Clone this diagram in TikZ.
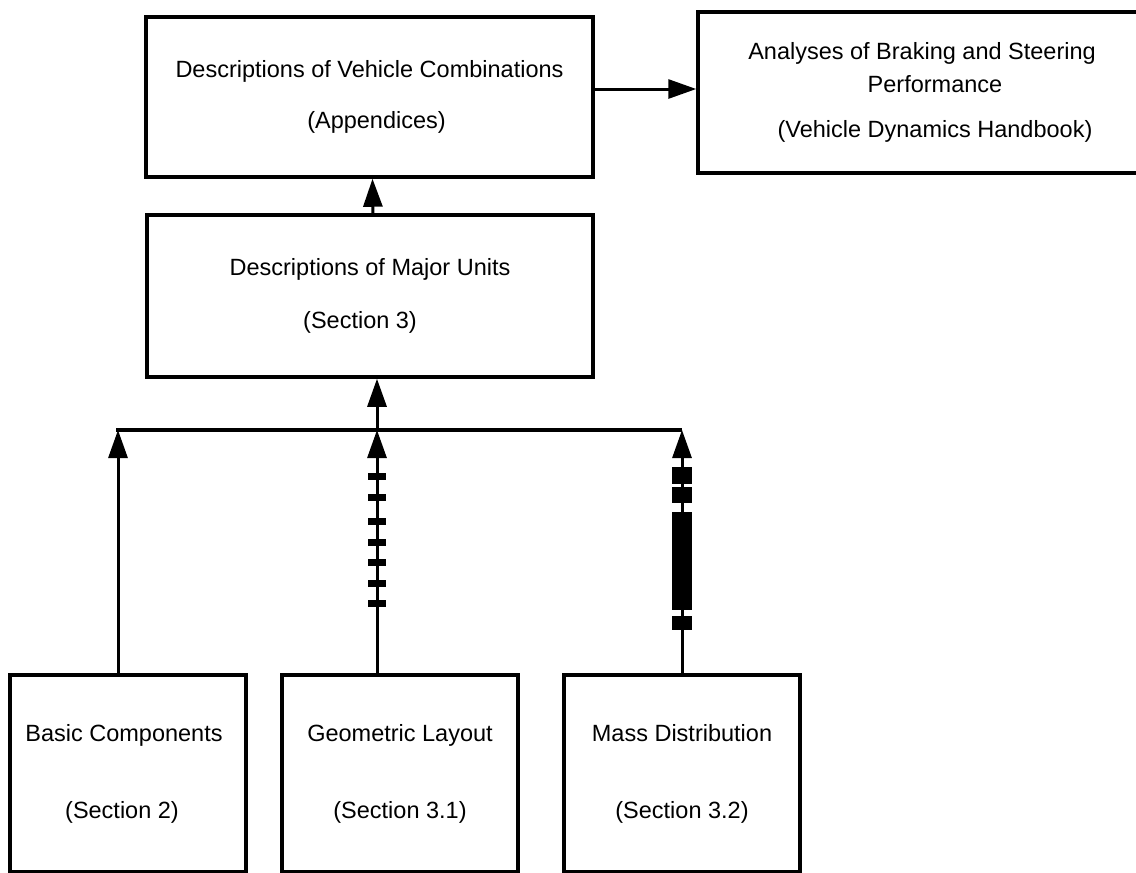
\documentclass[tikz,border=0pt]{standalone}
\usepackage{fontspec}
\setmainfont{Liberation Sans}
\usetikzlibrary{arrows.meta,calc}
\begin{document}
\begin{tikzpicture}[x=1pt,y=-1pt,
  box/.style={draw, line width=3.5pt, rectangle, inner sep=0pt, align=center,
    font=\fontsize{23.5}{28}\selectfont},
  conn/.style={line width=3pt},
  arr/.style={conn, -{Triangle[length=28pt,width=19pt]}},
  tick/.style={fill=black},
]
\useasboundingbox (0,0) rectangle (1136,873);

% boxes
\node[box, minimum width=447pt, minimum height=160pt] (A) at (369.5,97)
  {Descriptions of Vehicle Combinations\\[23pt]\hspace*{14pt}(Appendices)};
\node[box, minimum width=474pt, minimum height=161pt] (B) at (935,92.5)
  {Analyses of Braking and Steering\hspace*{26pt}\\[5pt]Performance\\[17pt](Vehicle Dynamics Handbook)};
\node[box, minimum width=446pt, minimum height=162pt] (C) at (370,296)
  {Descriptions of Major Units\\[25pt](Section 3)\hspace*{20pt}};
\node[box, minimum width=236pt, minimum height=197pt] (Bc) at (128,773.5)
  {Basic Components\hspace*{8pt}\\[49pt](Section 2)\hspace*{12pt}};
\node[box, minimum width=236pt, minimum height=197pt] (G) at (400,773.5)
  {Geometric Layout\\[49pt](Section 3.1)};
\node[box, minimum width=236pt, minimum height=197pt] (M) at (682,773.5)
  {Mass Distribution\\[49pt](Section 3.2)};

% bus
\coordinate (bl) at (116,430);
\coordinate (br) at (682,430);
\coordinate (gx) at (377,430);
\draw[line width=3.5pt] (bl) -- (br);

% top connectors
\draw[arr] ([yshift=8pt]A.east) -- ([yshift=3.5pt]B.west);
\draw[arr] ([xshift=3pt]C.north) -- ([xshift=3pt]A.south);
\draw[arr] (gx) -- (gx |- C.south);

% lower connectors
\draw[arr] ([xshift=-10pt]Bc.north) -- ([xshift=-10pt]Bc.north |- bl);
\draw[arr] (gx |- G.north) -- (gx);
\draw[arr] (M.north) -- (br);

% ticks on geometric line
\foreach \y in {476,497,521,542,562,583,603}
  \fill[tick] ($(gx |- 0,\y)+(-9,-3.5)$) rectangle ++(18,7);

% blocks on mass line
\foreach \a/\b in {467/484,487/503,512/610,616/630}
  \fill[tick] ($(br |- 0,\a)+(-10,0)$) rectangle ($(br |- 0,\b)+(10,0)$);
\end{tikzpicture}
\end{document}
